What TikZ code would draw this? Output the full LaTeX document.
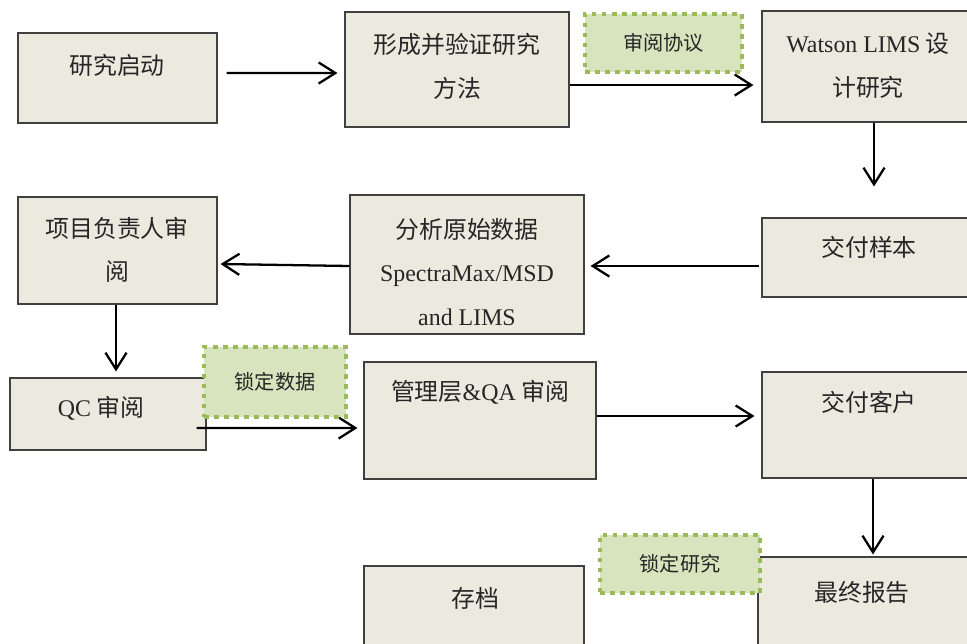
\documentclass[tikz,border=0pt]{standalone}
\usepackage{fontspec}
\setmainfont{Liberation Serif}
\newfontfamily\cjk{Noto Sans CJK SC}
\usetikzlibrary{arrows.meta}

\definecolor{boxfill}{HTML}{ECE9DF}
\definecolor{notefill}{HTML}{D7E4BD}
\definecolor{notedraw}{HTML}{9BBB59}

\begin{document}
\begin{tikzpicture}[
    x=0.02cm,
    y=-0.02cm,
    box/.style={
        draw=black!75,
        line width=0.6pt,
        fill=boxfill,
        inner sep=0pt
    },
    sz/.style 2 args={
        minimum width=#1*0.02cm,
        minimum height=#2*0.02cm
    },
    note/.style={
        draw=notedraw,
        fill=notefill,
        line width=2.7pt,
        dash pattern=on 2.6pt off 3.1pt,
        inner sep=0pt,
        font=\fontsize{11.5}{13}\selectfont\cjk,
        text=black!85
    },
    lbl/.style={
        font=\fontsize{13.6}{24.7}\selectfont\cjk,
        align=center,
        inner sep=0pt,
        text=black!85
    },
    arrow/.style={
        -{Straight Barb[length=9.5pt, width=12pt]},
        line width=1.3pt
    }
]
    \useasboundingbox (0,0) rectangle (967,643);

    % Process steps
    \node[box, sz={199}{90}] (start) at (117.5,78) {};
    \node[box, sz={224}{115}] (method) at (457,69.5) {};
    \node[box, sz={213}{111}] (design) at (868.5,66.5) {};
    \node[box, sz={213}{79}] (deliver) at (868.5,257.5) {};
    \node[box, sz={234}{139}] (analyze) at (467,264.5) {};
    \node[box, sz={199}{107}] (pireview) at (117.5,250.5) {};
    \node[box, sz={196}{72}] (qcreview) at (108,414) {};
    \node[box, sz={232}{117}] (mgmtreview) at (480,420.5) {};
    \node[box, sz={213}{106}] (client) at (868.5,425) {};
    \node[box, sz={217}{93}] (report) at (866.5,603.5) {};
    \node[box, sz={220}{84}] (archive) at (474,608) {};

    % Step texts (top of each box)
    \node[lbl] (starttxt) at (117,65) {研究启动};
    \node[lbl] (methodtxt) at (457,66.5) {形成并验证研究\\方法};
    \node[lbl] (designtxt) at (868,65.5) {{\rmfamily Watson LIMS} 设\\计研究};
    \node[lbl] (delivertxt) at (869,247) {交付样本};
    \node[lbl] (analyzetxt) at (467,272) {分析原始数据\\{\rmfamily SpectraMax/MSD}\\{\rmfamily and LIMS}};
    \node[lbl] (pireviewtxt) at (117,250) {项目负责人审\\阅};
    \node[lbl] (qcreviewtxt) at (101,408) {{\rmfamily QC} 审阅};
    \node[lbl] (mgmtreviewtxt) at (480,392) {管理层{\rmfamily\&QA} 审阅};
    \node[lbl] (clienttxt) at (869,402) {交付客户};
    \node[lbl] (reporttxt) at (862,593) {最终报告};
    \node[lbl] (archivetxt) at (475,598) {存档};

    % Flow arrows
    \draw[arrow] ([shift={(9,-5)}]start.east) -- ([shift={(-7,3.5)}]method.west);
    \draw[arrow] ([shift={(0,15.5)}]method.east) -- ([shift={(-8,18.5)}]design.west);
    \draw[arrow] ([shift={(5.5,0)}]design.south) -- ([shift={(5.5,-31)}]deliver.north);
    \draw[arrow] ([shift={(-2,8.5)}]deliver.west) -- ([shift={(6,1.5)}]analyze.east);
    \draw[arrow] ([shift={(0,1.5)}]analyze.west) -- ([shift={(3,13.5)}]pireview.east);
    \draw[arrow] ([shift={(-1.5,0)}]pireview.south) -- ([shift={(8,-6)}]qcreview.north);
    \draw[arrow] ([shift={(-10,14)}]qcreview.east) -- ([shift={(-6,7.5)}]mgmtreview.west);
    \draw[arrow] ([shift={(0,-4.5)}]mgmtreview.east) -- ([shift={(-7,-9)}]client.west);
    \draw[arrow] ([shift={(4.5,0)}]client.south) -- ([shift={(6.5,-2)}]report.north);

    % Dotted notes
    \node[note, sz={157}{58}] (protocol) at (663.5,43) {审阅协议};
    \node[note, sz={142}{70}] (lockdata) at (275,382) {锁定数据};
    \node[note, sz={160}{58}] (lockstudy) at (680,564) {锁定研究};
\end{tikzpicture}
\end{document}
